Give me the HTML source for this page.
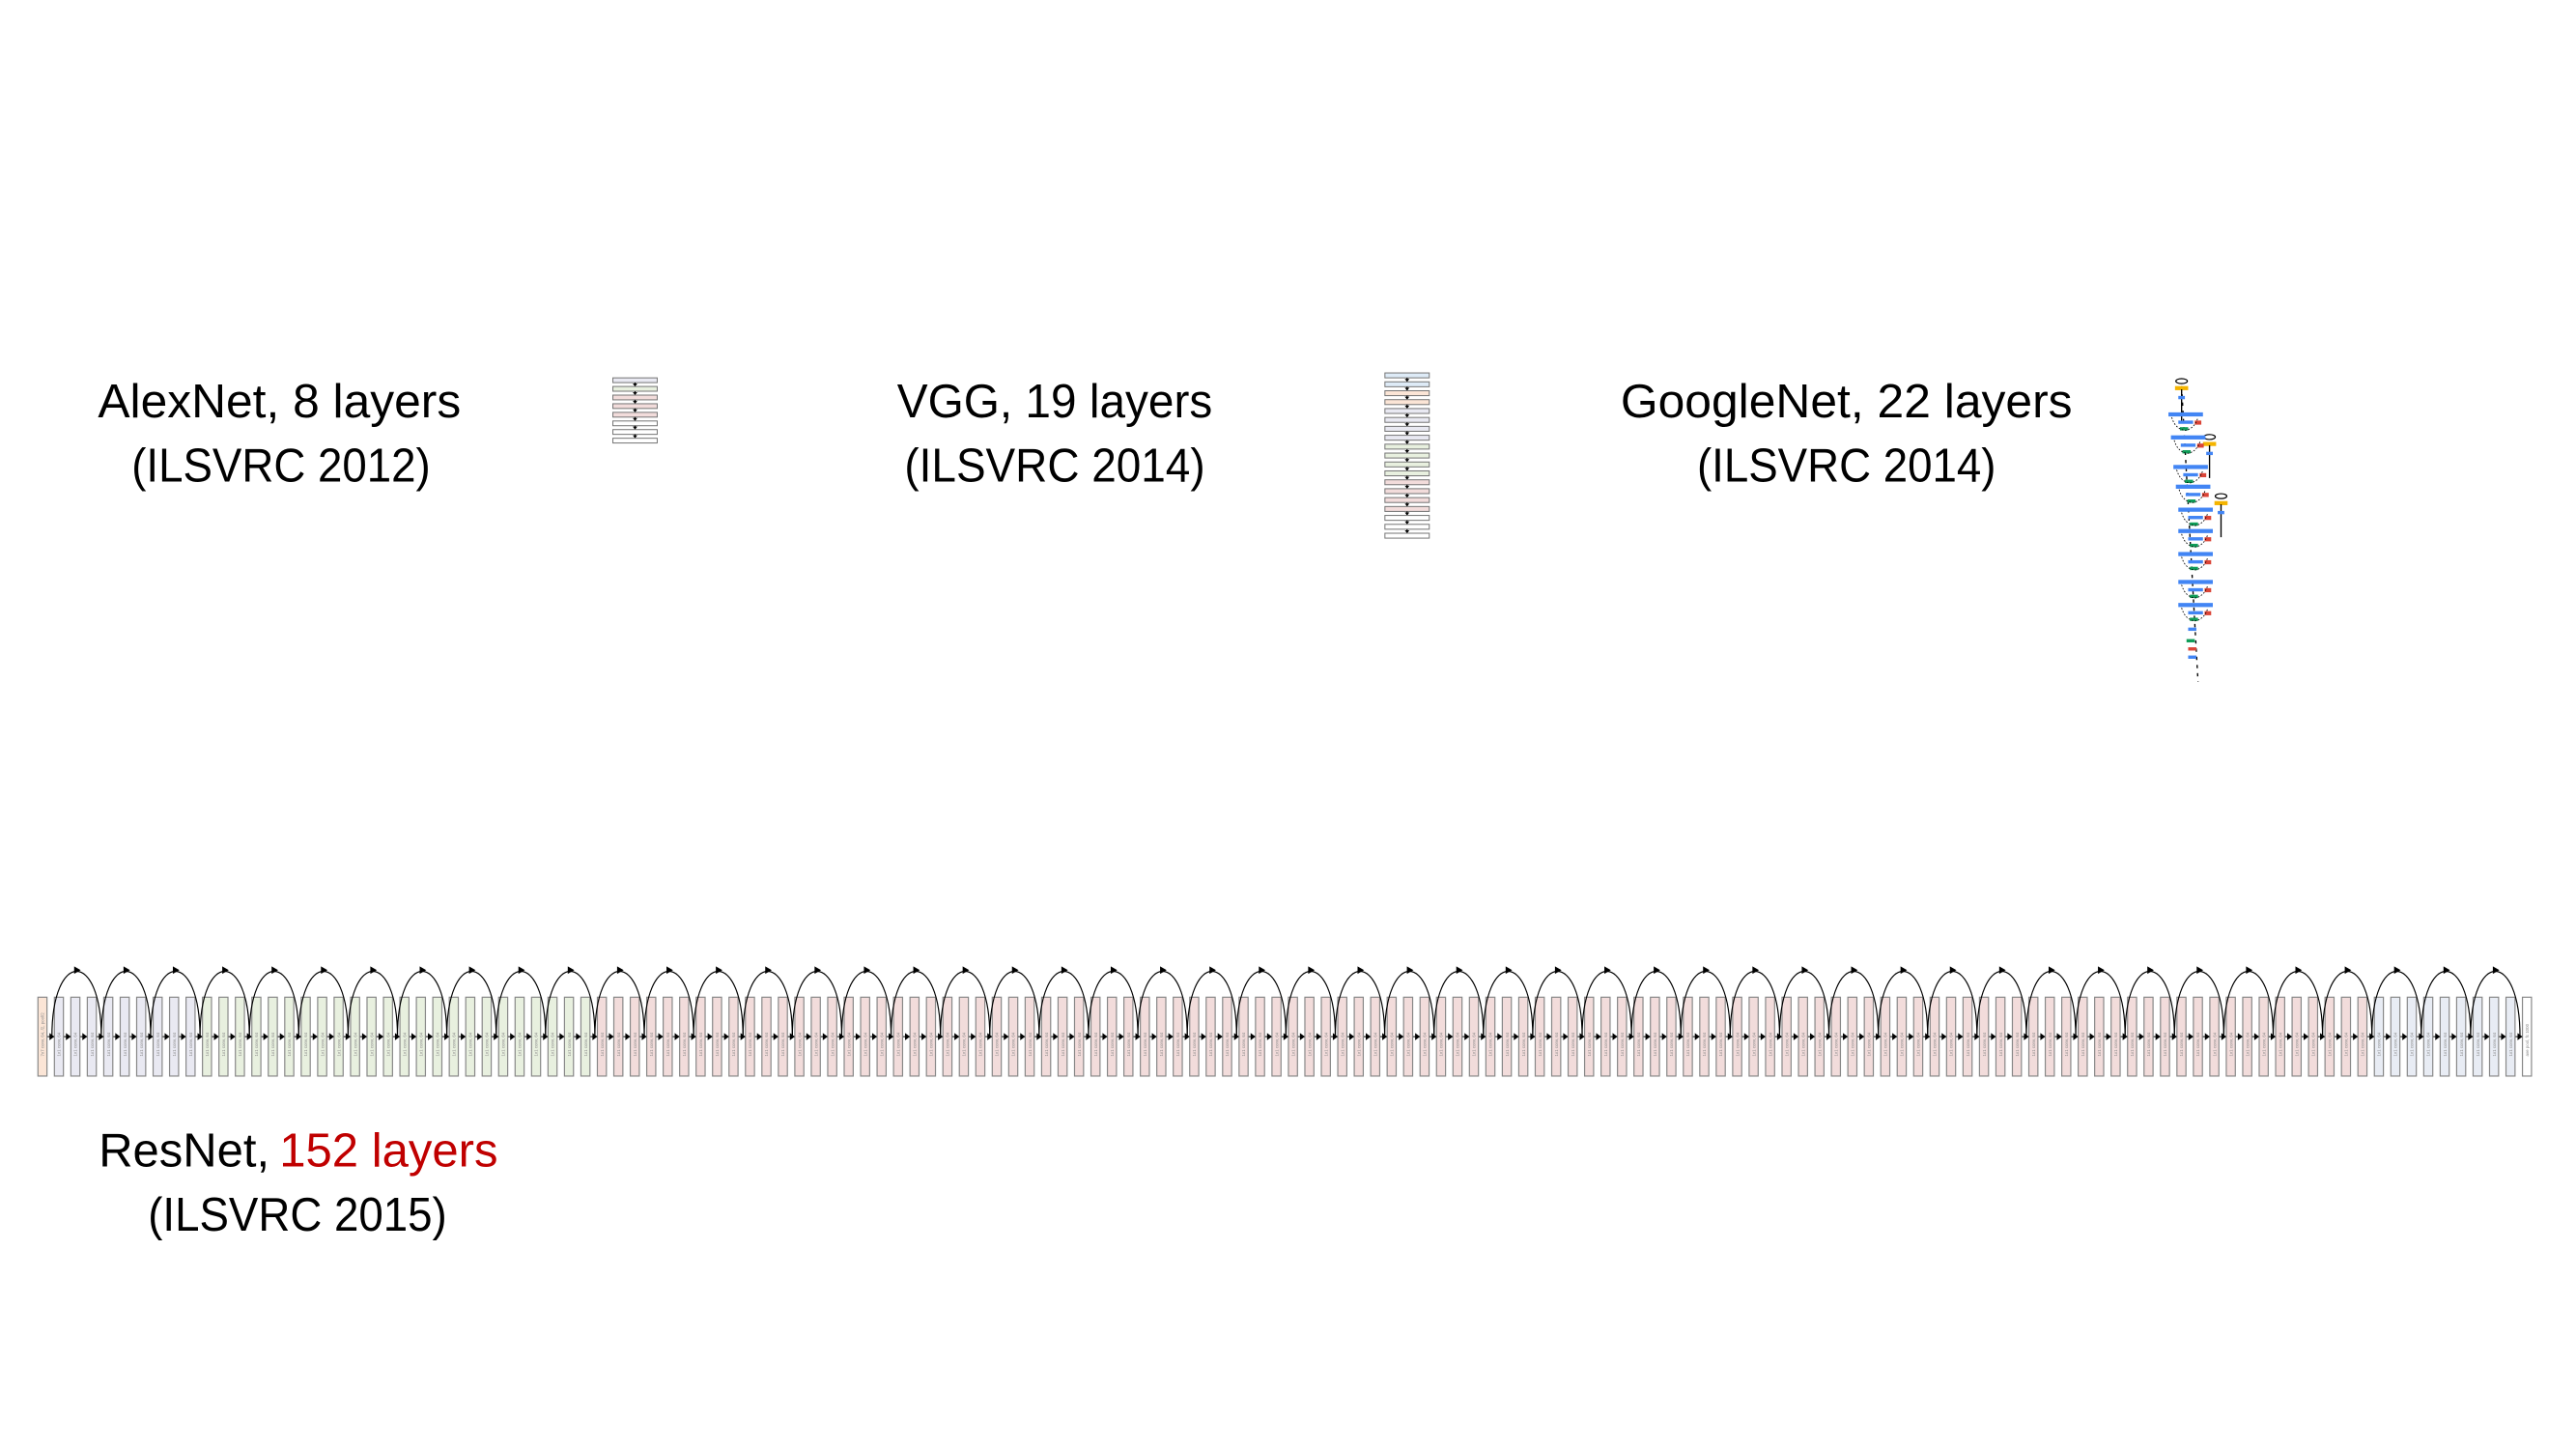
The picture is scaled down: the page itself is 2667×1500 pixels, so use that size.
<!DOCTYPE html>
<html><head><meta charset="utf-8"><style>
html,body{margin:0;padding:0;background:#fff;}
svg{display:block;}
text{font-family:"Liberation Sans",sans-serif;}
</style></head><body>
<svg id="c" width="2667" height="1500" viewBox="0 0 1568 882" xmlns="http://www.w3.org/2000/svg">
<rect width="1568" height="882" fill="#fff"/>
<g font-size="29" fill="#000" text-anchor="middle">
<text x="170" y="254" textLength="221" lengthAdjust="spacingAndGlyphs">AlexNet, 8 layers</text>
<text x="171" y="293" textLength="182" lengthAdjust="spacingAndGlyphs">(ILSVRC 2012)</text>
</g>
<g font-size="29" fill="#000" text-anchor="middle">
<text x="642" y="254" textLength="192" lengthAdjust="spacingAndGlyphs">VGG, 19 layers</text>
<text x="642" y="293" textLength="183" lengthAdjust="spacingAndGlyphs">(ILSVRC 2014)</text>
</g>
<g font-size="29" fill="#000" text-anchor="middle">
<text x="1124" y="254" textLength="275" lengthAdjust="spacingAndGlyphs">GoogleNet, 22 layers</text>
<text x="1124" y="293" textLength="182" lengthAdjust="spacingAndGlyphs">(ILSVRC 2014)</text>
</g>
<g font-size="29" fill="#000">
<text x="60" y="710"><tspan textLength="104" lengthAdjust="spacingAndGlyphs">ResNet,</tspan> <tspan x="170" fill="#c00000" textLength="133" lengthAdjust="spacingAndGlyphs">152 layers</tspan></text>
<text x="90" y="749" textLength="182" lengthAdjust="spacingAndGlyphs">(ILSVRC 2015)</text>
</g>
<g id="alex"></g>
<g id="vgg"></g>
<g id="goog"></g>
<g id="res"></g>
</svg>
<script>
const NS="http://www.w3.org/2000/svg";
const COL={o:"#fbe5d6",l:"#e9e9f2",g:"#e8f0df",p:"#f2dcdb",w:"#ffffff",b:"#deebf7",s:"#e8ecf4"};
const alexLayers=["l","g","p","p","p","w","w","w"];
const vggLayers=["b","b","o","o","l","l","l","l","g","g","g","g","p","p","p","p","w","w","w"];
const resStages=[["o",1],["l",9],["g",24],["p",108],["s",9],["w",1]];
const resBlockCounts=[3,8,36,3];
const googModules=[253,267,285,297,311,324,338,355,369];
const googAux=[[1328,232],[1345,266],[1352,302]];
function mk(p,tag,a){const e=document.createElementNS(NS,tag);for(const k in a)e.setAttribute(k,a[k]);p.appendChild(e);return e;}
function vstack(id,layers,x,y0,y1,w){
  const g=document.getElementById(id);const n=layers.length;const pitch=(y1-y0)/n;const h=pitch*0.55;
  layers.forEach((c,i)=>{
    const y=y0+i*pitch;
    const r=mk(g,"rect",{x:x,y:y,width:w,height:h,fill:COL[c],stroke:"#777","stroke-width":0.6});
    
    
    if(i<n-1){mk(g,"line",{x1:x+w/2,y1:y+h,x2:x+w/2,y2:y+pitch,stroke:"#000","stroke-width":0.7});
      mk(g,"path",{d:`M${x+w/2-1.4} ${y+pitch-1.8}L${x+w/2+1.4} ${y+pitch-1.8}L${x+w/2} ${y+pitch}Z`,fill:"#000"});}
  });
}
vstack("alex",alexLayers,373,230,272,27);
vstack("vgg",vggLayers,843,227,330,27);
(function(){
  const g=document.getElementById("goog");
  mk(g,"line",{x1:1328,y1:235,x2:1338,y2:415,stroke:"#000","stroke-width":0.8,"stroke-dasharray":"2 3"});
  googAux.forEach(([x,y])=>{
    const a=mk(g,"g",{});
    
    
    mk(a,"ellipse",{cx:x,cy:y,rx:3.5,ry:1.5,fill:"#fff",stroke:"#000","stroke-width":0.7});
    mk(a,"rect",{x:x-4,y:y+3,width:8,height:2.5,fill:"#f4b400"});
    mk(a,"line",{x1:x,y1:y+5,x2:x,y2:y+25,stroke:"#000","stroke-width":0.8});
    mk(a,"rect",{x:x-2,y:y+9,width:4,height:2,fill:"#4285f4"});
  });
  googModules.forEach((y,i)=>{
    const m=mk(g,"g",{});
    
    
    const cx=1330+Math.min(i,4)*1.5;
    mk(m,"rect",{x:cx-10,y:y-2,width:21,height:2.5,fill:"#4285f4"});
    mk(m,"rect",{x:cx-4,y:y+3,width:9,height:2,fill:"#4285f4"});
    mk(m,"rect",{x:cx+6,y:y+3,width:4,height:2.5,fill:"#db4437"});
    mk(m,"rect",{x:cx-3,y:y+7,width:5,height:2,fill:"#0f9d58"});
    mk(m,"path",{d:`M${cx-8} ${y+1}Q${cx-6} ${y+8} ${cx} ${y+9}Q${cx+6} ${y+8} ${cx+8} ${y+1}`,fill:"none",stroke:"#000","stroke-width":0.5,"stroke-dasharray":"1 1"});
  });
  [[1334,382,"#4285f4"],[1333,389,"#0f9d58"],[1334,394,"#db4437"],[1334,399,"#4285f4"]].forEach(([x,y,c])=>mk(g,"rect",{x:x-2,y:y,width:5,height:2,fill:c}));
})();
(function(){
  const g=document.getElementById("res");
  const layers=[];resStages.forEach(([c,n])=>{for(let i=0;i<n;i++)layers.push(c);});
  const N=layers.length,x0=23,w=5.5,pitch=(1541-w-x0)/(N-1),y0=607,y1=655,ym=631;
  const X=i=>x0+i*pitch;
  mk(g,"line",{x1:X(0)+w,y1:ym,x2:X(N-1),y2:ym,stroke:"#000","stroke-width":0.6});
  layers.forEach((c,i)=>{
    const r=mk(g,"rect",{x:X(i),y:y0,width:w,height:y1-y0,fill:COL[c],stroke:"#888","stroke-width":0.7});
    
    
    const t=mk(g,"text",{x:0,y:0,"font-size":2.6,fill:"#888",transform:`translate(${X(i)+w/2+1} ${y0+36}) rotate(-90)`});
    t.textContent=i===0?"7x7 conv, 64, /2, pool/2":(i===N-1?"ave pool, fc 1000":"1x1 conv, 64");
    if(i>0){const ax=X(i);mk(g,"path",{d:`M${ax-3} ${ym-2.2}L${ax} ${ym}L${ax-3} ${ym+2.2}Z`,fill:"#000"});}
  });
  let idx=1;
  resBlockCounts.forEach(nb=>{for(let b=0;b<nb;b++){
    const xa=X(idx)-1.5,xb=X(idx+3)-1.5,mx=(xa+xb)/2;
    const p=mk(g,"path",{d:`M${xa} ${ym}C${xa} ${y0-29},${xb} ${y0-29},${xb} ${ym}`,fill:"none",stroke:"#000","stroke-width":0.7});
    
    
    mk(g,"path",{d:`M${mx-1.5} ${590.5-2.3}L${mx+2.5} ${590.5}L${mx-1.5} ${590.5+2.3}Z`,fill:"#000"});
    idx+=3;}});
})();
</script>
</body></html>
